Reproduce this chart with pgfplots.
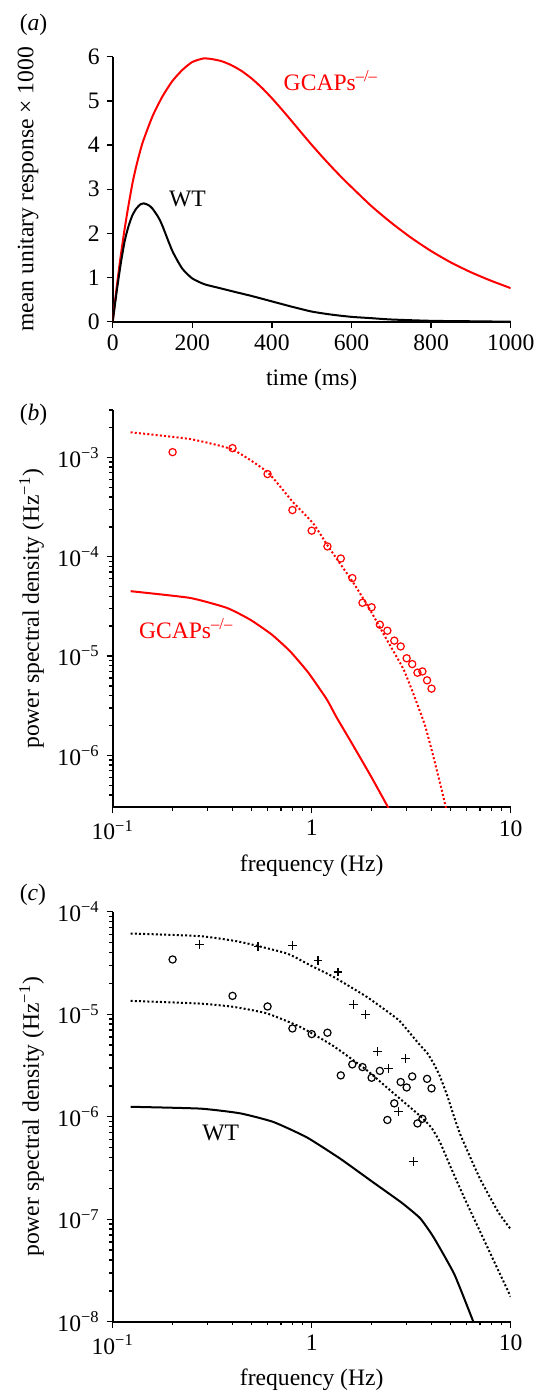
\documentclass[border=0pt]{standalone}
\usepackage{fontspec}
\setmainfont{Liberation Serif}
\usepackage{pgfplots}
\pgfplotsset{compat=1.18}

\pgfplotstableread{
t v
0 0
10 0.78
20 1.48
30 2.1
40 2.65
50 3.15
60 3.55
75 4.05
100 4.65
125 5.1
150 5.45
175 5.7
200 5.88
228 5.96
250 5.945
275 5.895
300 5.80
325 5.67
350 5.50
375 5.295
400 5.06
425 4.805
450 4.54
475 4.27
500 4.005
525 3.75
550 3.505
575 3.27
600 3.048
650 2.618
700 2.24
750 1.90
800 1.60
850 1.34
900 1.12
950 0.93
1000 0.76
}\gcapsA

\pgfplotstableread{
t v
0 0
10 0.68
20 1.3
30 1.82
40 2.17
50 2.42
60 2.57
70 2.66
78 2.68
90 2.64
100 2.56
115 2.36
125 2.17
150 1.6
175 1.2
200 0.98
230 0.85
260 0.78
300 0.69
350 0.58
400 0.46
450 0.34
500 0.23
550 0.16
600 0.11
650 0.08
700 0.05
800 0.02
900 0.01
1000 0.0
}\wtA

\pgfplotstableread{
f p
0.2 1.13e-3
0.4 1.24e-3
0.6 6.8e-4
0.8 2.95e-4
1.0 1.83e-4
1.2 1.27e-4
1.4 9.6e-5
1.6 6.1e-5
1.8 3.44e-5
2.0 3.1e-5
2.2 2.07e-5
2.4 1.8e-5
2.6 1.43e-5
2.8 1.25e-5
3.0 9.5e-6
3.2 8.3e-6
3.4 6.8e-6
3.6 7.0e-6
3.8 5.7e-6
4.0 4.7e-6
}\circB

\pgfplotstableread{
f p
0.123 1.79e-3
0.245 1.53e-3
0.40 1.2e-3
0.6 7.1e-4
0.8 3.6e-4
1.02 2.15e-4
1.21 1.27e-4
1.62 5.46e-5
1.96 2.94e-5
2.38 1.47e-5
2.89 7.4e-6
3.3 3.8e-6
3.71 2.0e-6
4.1 9.5e-7
4.5 4.5e-7
4.8 2.6e-7
}\dotB

\pgfplotstableread{
f p
0.123 4.5e-5
0.2445 3.85e-5
0.374 3.06e-5
0.49 2.33e-5
0.629 1.65e-5
0.778 1.12e-5
0.962 6.8e-6
1.19 3.67e-6
1.336 2.4e-6
1.6 1.3e-6
2.0 6.0e-7
2.42 3.0e-7
2.6 2.3e-7
}\solB

\pgfplotstableread{
f p
0.2 3.42e-5
0.4 1.51e-5
0.6 1.19e-5
0.8 7.26e-6
1.0 6.4e-6
1.2 6.6e-6
1.4 2.53e-6
1.6 3.24e-6
1.8 3.05e-6
2.0 2.4e-6
2.2 2.8e-6
2.4 9.3e-7
2.6 1.35e-6
2.8 2.18e-6
3.0 1.93e-6
3.2 2.47e-6
3.4 8.6e-7
3.6 9.55e-7
3.8 2.34e-6
4.0 1.89e-6
}\circC

\pgfplotstableread{
f p
0.272 4.83e-5
0.537 4.55e-5
0.80 4.72e-5
1.076 3.37e-5
1.355 2.58e-5
1.62 1.25e-5
1.87 1.0e-5
2.15 4.34e-6
2.43 2.93e-6
2.72 1.12e-6
2.96 3.7e-6
3.24 3.63e-7
}\plusC

\pgfplotstableread{
f p
0.123 6.13e-5
0.275 5.78e-5
0.436 5.08e-5
0.748 3.92e-5
1.0 2.95e-5
1.284 2.32e-5
1.888 1.48e-5
2.47 1.02e-5
2.78 8.5e-6
3.5 5.0e-6
3.8 4.2e-6
4.1 3.3e-6
4.4 2.5e-6
4.8 1.6e-6
5.15 1.05e-6
5.6 6.6e-7
7.0 2.5e-7
8.67 1.17e-7
10 8.0e-8
}\dotCa

\pgfplotstableread{
f p
0.123 1.35e-5
0.275 1.27e-5
0.404 1.18e-5
0.594 1.02e-5
0.873 7.54e-6
1.284 4.9e-6
1.888 2.85e-6
2.47 1.82e-6
3.5 1.02e-6
4.0 7.8e-7
4.42 5.6e-7
5.0 3.2e-7
6.0 1.45e-7
10 1.75e-8
}\dotCb

\pgfplotstableread{
f p
0.123 1.25e-6
0.275 1.2e-6
0.436 1.08e-6
0.641 8.9e-7
0.944 6.3e-7
1.39 3.9e-7
2.03 2.3e-7
2.83 1.45e-7
3.51 1.02e-7
4.11 6.6e-8
5.21 2.9e-8
6.49 1.0e-8
6.8 8.0e-9
}\solC

\begin{document}
\begin{tikzpicture}[font=\fontsize{11.8}{14}\selectfont]
\useasboundingbox (0pt,0pt) rectangle (268pt,-696pt);
\pgfplotsset{
  every axis/.append style={
    scale only axis, width=199pt,
    axis lines*=left, tick align=outside,
    axis line style={line width=0.9pt},
    major tick length=3pt, minor tick length=1.8pt,
    every tick/.style={line width=0.7pt, black},
    tick label style={font=\fontsize{11.8}{14}\selectfont},
    /pgf/number format/assume math mode=true,
    /pgf/number format/1000 sep={},
  },
  mydot/.style={line width=1pt, dash pattern=on 1pt off 1.1pt},
}
\node[anchor=west] at (6.35pt,-12.5pt) {(\textit{a})};
\node[anchor=west] at (6.35pt,-207.5pt) {(\textit{b})};
\node[anchor=west] at (6.35pt,-447.5pt) {(\textit{c})};

% (a)
\begin{axis}[at={(56.35pt,-160.85pt)}, anchor=south west, height=132.5pt,
  xmin=0, xmax=1000, ymin=0, ymax=6,
  xtick={0,200,400,600,800,1000}, ytick={0,1,2,3,4,5,6},
  xlabel={time (ms)}, ylabel={mean unitary response × 1000},
  xlabel style={at={([yshift=-29pt]axis description cs:0.5,0)}, anchor=center},
  ylabel style={at={([xshift=-42.3pt]axis description cs:0,0.5)}, anchor=center},
]
\addplot[red, line width=1pt, smooth, tension=0.4, no marks] table[x=t,y=v] {\gcapsA};
\addplot[black, line width=1pt, smooth, tension=0.4, no marks] table[x=t,y=v] {\wtA};
\node[red, anchor=west] at (axis cs:412,5.45) {GCAPs\textsuperscript{–/–}};
\node[black, anchor=west] at (axis cs:124,2.78) {WT};
\end{axis}

% (b)
\begin{axis}[at={(56.35pt,-403.65pt)}, anchor=south west, height=198.65pt,
  xmode=log, ymode=log, xmin=0.1, xmax=10, ymin=3e-7, ymax=3e-3,
  xtick={0.1,1,10}, xticklabels={10\textsuperscript{−1},1,10},
  ytick={1e-6,1e-5,1e-4,1e-3},
  yticklabels={10\textsuperscript{−6},10\textsuperscript{−5},10\textsuperscript{−4},10\textsuperscript{−3}},
  minor xtick={0.2,0.3,0.4,0.5,0.6,0.7,0.8,0.9,2,3,4,5,6,7,8,9},
  minor ytick={4e-7,5e-7,6e-7,7e-7,8e-7,9e-7,2e-6,3e-6,4e-6,5e-6,6e-6,7e-6,8e-6,9e-6,2e-5,3e-5,4e-5,5e-5,6e-5,7e-5,8e-5,9e-5,2e-4,3e-4,4e-4,5e-4,6e-4,7e-4,8e-4,9e-4,2e-3,3e-3},
  xlabel={frequency (Hz)}, ylabel={power spectral density (Hz\textsuperscript{−1})},
  xlabel style={at={([yshift=-29pt]axis description cs:0.5,0)}, anchor=center},
  ylabel style={at={([xshift=-40.5pt]axis description cs:0,0.5)}, anchor=center},
]
\addplot[red, mydot, smooth, tension=0.3, no marks] table[x=f,y=p] {\dotB};
\addplot[red, line width=1pt, smooth, tension=0.3, no marks] table[x=f,y=p] {\solB};
\addplot[red, only marks, mark=o, mark size=1.8pt, mark options={line width=0.6pt}] table[x=f,y=p] {\circB};
\node[red, anchor=west] at (axis cs:0.125,1.9e-5) {GCAPs\textsuperscript{–/–}};
\end{axis}

% (c)
\begin{axis}[at={(56.35pt,-660.85pt)}, anchor=south west, height=205pt,
  xmode=log, ymode=log, xmin=0.1, xmax=10, ymin=1e-8, ymax=1e-4,
  xtick={0.1,1,10}, xticklabels={10\textsuperscript{−1},1,10},
  ytick={1e-8,1e-7,1e-6,1e-5,1e-4},
  yticklabels={10\textsuperscript{−8},10\textsuperscript{−7},10\textsuperscript{−6},10\textsuperscript{−5},10\textsuperscript{−4}},
  minor xtick={0.2,0.3,0.4,0.5,0.6,0.7,0.8,0.9,2,3,4,5,6,7,8,9},
  minor ytick={2e-8,3e-8,4e-8,5e-8,6e-8,7e-8,8e-8,9e-8,2e-7,3e-7,4e-7,5e-7,6e-7,7e-7,8e-7,9e-7,2e-6,3e-6,4e-6,5e-6,6e-6,7e-6,8e-6,9e-6,2e-5,3e-5,4e-5,5e-5,6e-5,7e-5,8e-5,9e-5},
  xlabel={frequency (Hz)}, ylabel={power spectral density (Hz\textsuperscript{−1})},
  xlabel style={at={([yshift=-29pt]axis description cs:0.5,0)}, anchor=center},
  ylabel style={at={([xshift=-40.5pt]axis description cs:0,0.5)}, anchor=center},
]
\addplot[black, mydot, smooth, tension=0.3, no marks] table[x=f,y=p] {\dotCa};
\addplot[black, mydot, smooth, tension=0.3, no marks] table[x=f,y=p] {\dotCb};
\addplot[black, line width=1pt, smooth, tension=0.3, no marks] table[x=f,y=p] {\solC};
\addplot[black, only marks, mark=o, mark size=1.8pt, mark options={line width=0.6pt}] table[x=f,y=p] {\circC};
\addplot[black, only marks, mark=+, mark size=2.2pt, mark options={line width=0.6pt}] table[x=f,y=p] {\plusC};
\node[black, anchor=west] at (axis cs:0.26,7e-7) {WT};
\end{axis}
\end{tikzpicture}
\end{document}
